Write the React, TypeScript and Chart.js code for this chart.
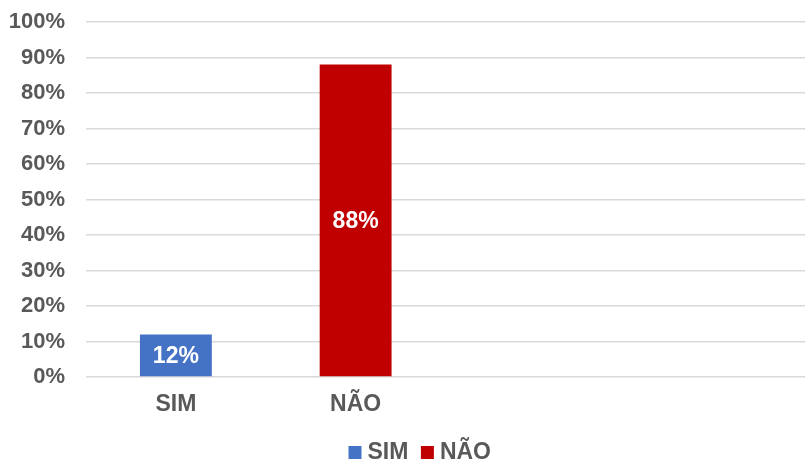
import React, { useEffect, useRef } from "react";
import { Chart, registerables } from "chart.js";

Chart.register(...registerables);

const categories = ["SIM", "NÃO", "", ""];
const seriesNames = ["SIM", "NÃO"];
const simValues = [12, null, null, null];
const naoValues = [null, 88, null, null];
const seriesColors = ["#4472C4", "#C00000"];
const yTicksMax = 100;
const yStep = 10;

const FONT = "'Liberation Sans', Arial, sans-serif";
const GRAY = "#595959";

const valueLabels = {
  id: "valueLabels",
  afterDatasetsDraw(chart: any) {
    const ctx = chart.ctx;
    ctx.save();
    ctx.fillStyle = "#ffffff";
    ctx.font = `bold 23px ${FONT}`;
    ctx.textAlign = "center";
    ctx.textBaseline = "middle";
    chart.data.datasets.forEach((ds: any, i: number) => {
      const meta = chart.getDatasetMeta(i);
      meta.data.forEach((bar: any, j: number) => {
        const v = ds.data[j];
        if (v == null) return;
        const { x, y, base } = bar.getProps(["x", "y", "base"], true);
        ctx.fillText(`${v}%`, x, (y + base) / 2 + 1);
      });
    });
    ctx.restore();
  },
};

const legendShift = {
  id: "legendShift",
  afterLayout(chart: any) {
    const lg = chart.legend;
    if (lg) {
      lg.left += 20;
      lg.right += 20;
      lg.top += 4;
      lg.bottom += 4;
    }
  },
};

export default function App() {
  const ref = useRef<HTMLCanvasElement>(null);
  useEffect(() => {
    if (!ref.current) return;
    const chart = new Chart(ref.current, {
      type: "bar",
      data: {
        labels: categories,
        datasets: [
          {
            label: seriesNames[0],
            data: simValues,
            backgroundColor: seriesColors[0],
            grouped: false,
            categoryPercentage: 1,
            barPercentage: 0.4,
          } as any,
          {
            label: seriesNames[1],
            data: naoValues,
            backgroundColor: seriesColors[1],
            grouped: false,
            categoryPercentage: 1,
            barPercentage: 0.4,
          } as any,
        ],
      },
      options: {
        animation: false,
        responsive: true,
        maintainAspectRatio: false,
        layout: { padding: { left: 0, right: 0, top: 22, bottom: -10 } },
        plugins: {
          legend: {
            position: "bottom",
            labels: {
              font: { family: FONT, size: 23, weight: "bold" },
              color: GRAY,
              usePointStyle: true,
              pointStyle: "rect",
              boxWidth: 2,
              boxHeight: 13,
              padding: 18,
            },
          },
          tooltip: { enabled: false },
        },
        scales: {
          x: {
            grid: { display: false, drawTicks: false },
            border: { display: false },
            ticks: {
              font: { family: FONT, size: 23, weight: "bold" },
              color: GRAY,
              padding: 14,
            },
            afterFit: (s: any) => {
              s.height = 42;
            },
          },
          y: {
            min: 0,
            max: yTicksMax,
            grid: {
              color: "#d9d9d9",
              lineWidth: 1.5,
              drawTicks: true,
              tickLength: 18,
              tickColor: "rgba(0,0,0,0)",
            },
            border: { display: false },
            ticks: {
              stepSize: yStep,
              font: { family: FONT, size: 22, weight: "bold" },
              color: GRAY,
              padding: 3,
              callback: (v: any) => `${v}%`,
            },
            afterFit: (s: any) => {
              s.width = 86;
            },
          },
        },
      },
      plugins: [valueLabels, legendShift],
    });
    return () => chart.destroy();
  }, []);
  return (
    <div style={{ position: "fixed", left: 0, top: 0, width: 805, height: 460, background: "#fff", overflow: "hidden" }}>
      <canvas ref={ref} />
    </div>
  );
}
